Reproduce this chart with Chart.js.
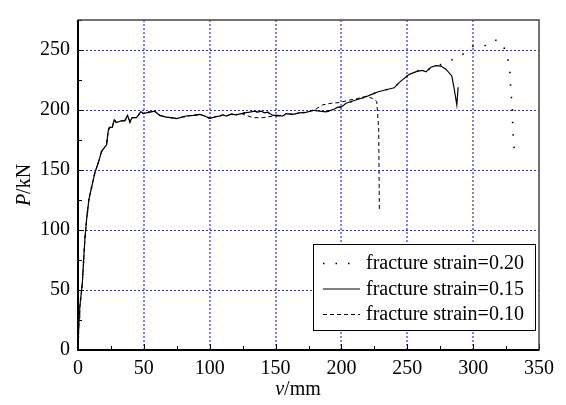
<!DOCTYPE html>
<html>
<head>
<meta charset="utf-8">
<script src="https://cdn.jsdelivr.net/npm/chart.js@4.4.1/dist/chart.umd.min.js"></script>
<style>
  html, body { margin: 0; padding: 0; background: #fff; }
  #wrap { width: 566px; height: 405px; position: relative; }
</style>
</head>
<body>
<div id="wrap"><canvas id="chart"></canvas></div>
<script>
/* global Chart */

// Datos (v en mm, P en kN)
const commonV = [0, 0.8, 1.3, 3.3, 4.3, 5.3, 6.6, 8.3, 10.4, 12.9, 15.4, 17.9, 21.7, 23, 24, 26, 27.5, 29, 33, 35.6, 37.6, 39.4, 41, 44.4, 45.7, 47.7, 49.5, 53.3, 58.3, 62, 67, 72, 74.8, 82.3, 87.4, 92.4, 96.2, 100, 105, 107.6, 110, 112.6, 116.4, 120, 124];
const commonP = [0, 27, 35, 56, 75, 93.5, 109.5, 125.6, 136, 148, 156, 165.6, 171, 183, 185.6, 185.6, 191.8, 189.6, 191, 191, 195.5, 190, 193.6, 193.6, 195.5, 198.7, 197, 198, 199, 195.5, 194, 193.4, 192.9, 195, 195.5, 196.3, 195, 193, 194.5, 195, 196, 195, 196.6, 196, 197];

// tramo comun de 0.20 y 0.15
const midV = [126.5, 130.3, 134, 136.6, 139, 141.7, 144, 148, 151.7, 155.5, 158, 163, 168, 173, 179.5, 183.3, 188.4, 194.7, 197.2, 199.8, 203.5, 211, 218.7, 223, 227.5, 233.8, 237, 240, 244, 251.5, 257.8, 261.6, 264.2, 268, 271.7];
const midP = [197.6, 198.2, 199, 198.2, 199, 197.6, 198.2, 195.5, 195.5, 195, 197, 196.3, 197.6, 198, 199.8, 199, 198.5, 200.8, 202.4, 202.4, 205.6, 208.3, 211, 213, 215, 216.9, 217.7, 218.5, 223, 229.7, 232.4, 233, 231.8, 235.6, 237];

const tail20V = [275.5, 281.3, 291.4, 299.5, 308.3, 316.4, 322.2, 326, 327.8, 328.3, 329, 329.8, 330, 330.5, 331.3];
const tail20P = [237.8, 240.4, 245.8, 253, 253.2, 258.6, 255.6, 244.4, 233.7, 222.2, 211, 199.5, 188.3, 177, 165.9];

const tail15V = [275.5, 279.3, 283.8, 285.6, 287.6, 288.6];
const tail15P = [236.6, 234, 228.4, 217.7, 204.3, 219];

const tail10V = [126.5, 132.8, 140.4, 148, 155.5, 158, 163, 168, 173, 180.8, 185.8, 192.2, 198.5, 206, 212, 218.7, 223.7, 226.8, 228.3, 228.8];
const tail10P = [196, 193.6, 193.6, 195, 195, 197, 196.3, 197.6, 198, 200.9, 204.3, 205.6, 206.2, 208.3, 209.5, 211.5, 209.6, 207, 184, 116];

const seriesLabels = ['fracture strain=0.20', 'fracture strain=0.15', 'fracture strain=0.10'];
const xTitle = ['v', '/mm'];
const yTitle = ['P', '/kN'];

const toPoints = (vs, ps) => vs.map((v, i) => ({ x: v, y: ps[i] }));

const pts20 = toPoints(commonV.concat(midV, tail20V), commonP.concat(midP, tail20P));
const pts15 = toPoints(commonV.concat(midV, tail15V), commonP.concat(midP, tail15P));
const pts10 = toPoints(commonV.concat(tail10V), commonP.concat(tail10P));

const styles = [
	{ dash: [1.5, 11], width: 1.6 },
	{ dash: [], width: 1.2 },
	{ dash: [4, 3], width: 1 }
];

const serif = '"Liberation Serif", "Times New Roman", serif';
Chart.defaults.font.family = serif;
Chart.defaults.font.size = 20;
Chart.defaults.color = '#000';

// rejilla punteada azul
const gridPlugin = {
	id: 'blueGrid',
	beforeDatasetsDraw(chart) {
		const { ctx, chartArea: a, scales } = chart;
		ctx.save();
		ctx.setLineDash([2, 2]);
		ctx.strokeStyle = 'rgba(40, 40, 255, 0.6)';
		ctx.lineWidth = 2;
		scales.x.ticks.forEach((t) => {
			if (t.value % 50 !== 0 || t.value <= 0 || t.value >= 350) return;
			const px = Math.round(scales.x.getPixelForValue(t.value));
			ctx.beginPath();
			ctx.moveTo(px, a.bottom);
			ctx.lineTo(px, a.top);
			ctx.stroke();
		});
		ctx.strokeStyle = 'rgb(40, 40, 255)';
		ctx.lineWidth = 1;
		scales.y.ticks.forEach((t) => {
			if (t.value % 50 !== 0 || t.value <= 0) return;
			const py = Math.round(scales.y.getPixelForValue(t.value)) + 0.5;
			ctx.beginPath();
			ctx.moveTo(a.left, py);
			ctx.lineTo(a.right, py);
			ctx.stroke();
		});
		ctx.restore();
	}
};

// marco, marcas interiores, titulos y leyenda
const decorPlugin = {
	id: 'decor',
	afterDraw(chart) {
		const { ctx, chartArea: a, scales } = chart;
		ctx.save();

		ctx.strokeStyle = '#000';
		ctx.lineWidth = 1;
		scales.x.ticks.forEach((t) => {
			const px = Math.round(scales.x.getPixelForValue(t.value)) + 0.5;
			const len = t.value % 50 === 0 ? 6 : 4;
			ctx.beginPath();
			ctx.moveTo(px, a.bottom);
			ctx.lineTo(px, a.bottom - len);
			ctx.stroke();
		});
		scales.y.ticks.forEach((t) => {
			const py = Math.round(scales.y.getPixelForValue(t.value)) + 0.5;
			const len = t.value % 50 === 0 ? 6 : 4;
			ctx.beginPath();
			ctx.moveTo(a.left, py);
			ctx.lineTo(a.left + len, py);
			ctx.stroke();
		});

		ctx.strokeStyle = '#444';
		ctx.lineWidth = 1.5;
		ctx.strokeRect(a.left, a.top, a.right - a.left, a.bottom - a.top);
		ctx.strokeStyle = '#000';
		ctx.lineWidth = 2;
		ctx.beginPath();
		ctx.moveTo(a.left, a.top);
		ctx.lineTo(a.left, a.bottom);
		ctx.lineTo(a.right, a.bottom);
		ctx.stroke();

		// titulos de ejes
		const italic = 'italic 20px ' + serif;
		const normal = '20px ' + serif;
		ctx.fillStyle = '#000';
		ctx.textBaseline = 'alphabetic';
		ctx.textAlign = 'left';

		ctx.font = italic;
		const wv = ctx.measureText(xTitle[0]).width;
		ctx.font = normal;
		const wmm = ctx.measureText(xTitle[1]).width;
		let x0 = 298 - (wv + wmm) / 2;
		ctx.font = italic;
		ctx.fillText(xTitle[0], x0, 395);
		ctx.font = normal;
		ctx.fillText(xTitle[1], x0 + wv, 395);

		ctx.save();
		ctx.translate(30, 185);
		ctx.rotate(-Math.PI / 2);
		ctx.font = italic;
		const wp = ctx.measureText(yTitle[0]).width;
		ctx.font = normal;
		const wkn = ctx.measureText(yTitle[1]).width;
		x0 = -(wp + wkn) / 2;
		ctx.font = italic;
		ctx.fillText(yTitle[0], x0, 0);
		ctx.font = normal;
		ctx.fillText(yTitle[1], x0 + wp, 0);
		ctx.restore();

		// leyenda
		ctx.fillStyle = '#fff';
		ctx.fillRect(313.5, 244.5, 222, 86);
		ctx.strokeStyle = '#000';
		ctx.lineWidth = 1;
		ctx.strokeRect(313.5, 244.5, 222, 86);
		const rows = [263, 288.5, 314];
		chart.data.datasets.forEach((ds, i) => {
			ctx.save();
			ctx.strokeStyle = '#000';
			ctx.lineWidth = ds.borderWidth;
			ctx.setLineDash(ds.borderDash);
			ctx.beginPath();
			ctx.moveTo(323, rows[i] + 0.5);
			ctx.lineTo(360, rows[i] + 0.5);
			ctx.stroke();
			ctx.restore();
			ctx.fillStyle = '#000';
			ctx.font = normal;
			ctx.textBaseline = 'middle';
			ctx.fillText(ds.label, 366, rows[i] + 1);
		});

		ctx.restore();
	}
};

const canvas = document.getElementById('chart');

const tickFont = { family: serif, size: 20 };

const graph = new Chart(canvas, {
	type: 'scatter',
	data: {
		datasets: [pts20, pts15, pts10].map((d, i) => ({
			label: seriesLabels[i],
			data: d,
			showLine: true,
			borderColor: '#000',
			backgroundColor: '#000',
			borderWidth: styles[i].width,
			borderDash: styles[i].dash,
			pointRadius: 0,
			tension: 0
		}))
	},
	options: {
		responsive: true,
		maintainAspectRatio: false,
		animation: false,
		devicePixelRatio: 1,
		layout: { padding: { top: 6, right: 27, left: 0, bottom: 0 } },
		plugins: { legend: { display: false }, tooltip: { enabled: false } },
		scales: {
			x: {
				type: 'linear',
				min: 0,
				max: 350,
				afterFit: (s) => { s.height = 55; },
				border: { display: false },
				grid: { display: false, drawTicks: false },
				ticks: {
					stepSize: 25,
					padding: 7,
					maxRotation: 0,
					autoSkip: false,
					font: tickFont,
					color: '#000',
					callback: (v) => (v % 50 === 0 ? String(v) : '')
				}
			},
			y: {
				min: 0,
				max: 275,
				afterFit: (s) => { s.width = 78; },
				border: { display: false },
				grid: { display: false, drawTicks: false },
				ticks: {
					stepSize: 25,
					padding: 8,
					autoSkip: false,
					font: tickFont,
					color: '#000',
					callback: (v) => (v % 50 === 0 ? String(v) : '')
				}
			}
		}
	},
	plugins: [gridPlugin, decorPlugin]
});
</script>
</body>
</html>
